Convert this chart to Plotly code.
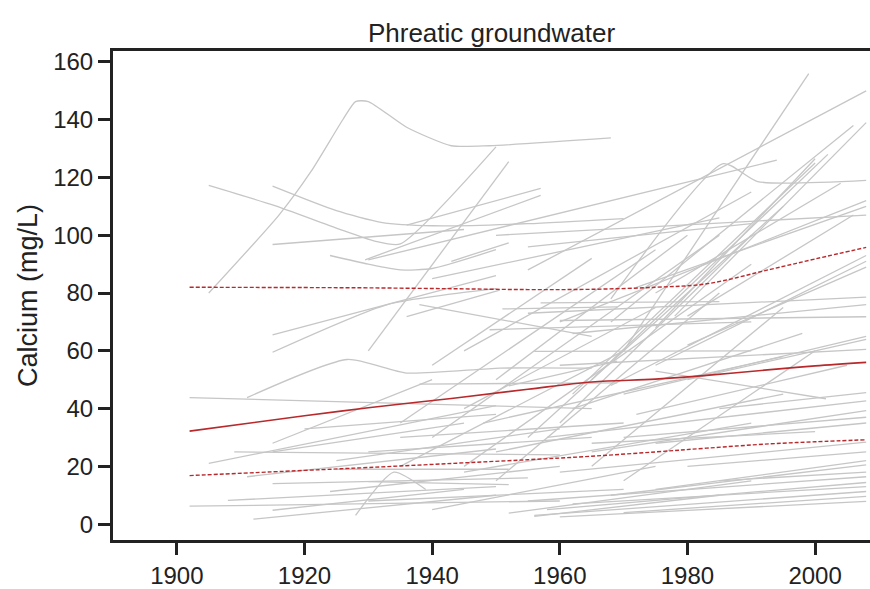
import plotly.graph_objects as go

# ---- Individual well trends: (start year, start Ca, end year, end Ca) ----
upper_wells = [
    (1970, 60, 1999, 156), (1955, 88, 2008, 150), (1968, 70, 2006, 138),
    (1978, 72, 2008, 139), (1965, 50, 2002, 128), (1975, 68, 2000, 126.5),
    (1930, 91.5, 1994, 126), (1962, 45, 2000, 125), (1975, 80, 2004, 118),
    (1980, 72, 2006, 107), (1960, 70, 2008, 112), (1972, 82, 2008, 110),
    (1950, 100, 2008, 107), (1936, 103.5, 1957, 116.2), (1929.5, 91.5, 1957, 113.8),
    (1930, 60, 1952, 125.5), (1943, 91, 1952, 97.4), (1915, 96.8, 1945, 102),
    (1955, 96, 1990, 104), (1940, 85, 1985, 106),
]

middle_wells = [
    (1968, 48, 2008, 93), (1975, 55, 2008, 91), (1980, 62, 2008, 89),
    (1955, 73, 2008, 78.6), (1962, 66, 2008, 76), (1960, 70.5, 2008, 71.8),
    (1970, 45, 2008, 65), (1980, 50, 2008, 64), (1960, 55, 2008, 60.5),
    (1975, 53, 2001.7, 43.4), (1940, 30, 1985, 100), (1945, 20, 1990, 90),
    (1950, 15, 1985, 80), (1935, 35, 1975, 95), (1955, 30, 1995, 110),
    (1950, 50, 1980, 100), (1945, 40, 1975, 75), (1960, 35, 1990, 100),
    (1940, 55, 1965, 92), (1965, 20, 1995, 75), (1970, 15, 2000, 60),
    (1935, 20, 1970, 60), (1945, 60, 1990, 115), (1951, 74.5, 1969, 75.2),
    (1957, 76.6, 1985, 77), (1949, 67.3, 1990, 70), (1938, 48.5, 1969, 48.9),
    (1952, 47.9, 1969, 56.4), (1956, 59.8, 1990, 60), (1915, 65.5, 1950, 86),
    (1936, 71.8, 1950.6, 81), (1938, 76, 1965, 65), (1902, 43.8, 1965, 40),
    (1915, 28, 1940, 50), (1985, 40, 2008, 45.5), (1958, 30, 2008, 42.7),
    (1965, 25, 2008, 39.3), (1970, 30, 2008, 37), (1975, 28, 2008, 35),
    (1962, 40, 1998, 66), (1948, 35, 1995, 58), (1972, 38, 2005, 55),
]

lower_wells = [
    (1960, 18, 2008, 28.4), (1968, 10, 2008, 20.5), (1955, 8, 2008, 16.4),
    (1958, 5, 2008, 14.4), (1962, 7, 2008, 13), (1956, 3, 2008, 11.3),
    (1970, 4, 2008, 9.6), (1960, 2.5, 2008, 7.9), (1905, 21, 1950, 41),
    (1909, 25, 1960, 24), (1915, 25, 1945, 35), (1911, 16.4, 1950, 26),
    (1915, 14, 1955, 16), (1924, 11.3, 1960, 20), (1908, 8.2, 1950, 13),
    (1902, 6.2, 1960, 8), (1915, 4.8, 1945, 12), (1912, 1.7, 1950, 10),
    (1930, 14.7, 1952, 13.7), (1925, 19, 1952, 19), (1952, 3.8, 1990, 15),
    (1956, 2.7, 1985, 10), (1930, 25, 1965, 30), (1935, 30, 1970, 35),
    (1940, 5, 1975, 20), (1925, 22, 1960, 33), (1920, 33, 1950, 38),
    (1945, 18, 1990, 35), (1950, 25, 1995, 45), (1930, 8, 1970, 12),
    (1980, 20, 2008, 25), (1975, 12, 2008, 22), (1985, 15, 2008, 18),
    (1965, 28, 2000, 32),
]

# ---- Wells with non-linear trends: (year, Ca) ----
well_peak = [(1905, 80), (1916, 107), (1921, 122), (1926, 140), (1928, 146.3),
             (1930, 146.3), (1936, 137.4), (1943, 131), (1949, 131), (1968, 133.7)]
well_dip = [(1905, 117.3), (1915, 110.5), (1925, 102.5), (1931, 98),
            (1935, 97), (1950, 130.6)]
well_flat_high = [(1915, 117), (1925, 108.5), (1932, 104.5), (1940, 103.3),
                  (1955, 104), (1970, 105.8)]
well_sag = [(1924, 93), (1930, 90), (1935, 88), (1940, 88.5), (1950, 95)]
well_hump = [(1911, 43.8), (1926.7, 57), (1936, 52.3), (1950.6, 54), (1965, 54)]
well_kink = [(1915, 59.5), (1933, 76), (1950, 81.5)]
well_spike = [(1928, 3), (1934, 18), (1939, 12)]
well_ridge = [(1968, 78), (1985.6, 124.8), (1991, 118.6), (2008, 119)]

curved_wells = [well_peak, well_dip, well_flat_high, well_sag,
                well_hump, well_kink, well_spike, well_ridge]

# ---- Percentiles across wells ----
pct_years = [1902, 1920, 1930, 1943, 1955, 1965, 1975, 1983, 1993, 2000, 2008]
median_ca = [32.2, 37.5, 40.3, 43.5, 46.7, 49.2, 50.2, 51.5, 53.5, 54.8, 56]
p90_ca = [82, 81.9, 81.8, 81.5, 81.2, 81.3, 82, 83.2, 88.2, 91.8, 95.8]
p10_ca = [16.8, 18.6, 19.6, 21, 22.3, 23.5, 25, 26.3, 27.8, 28.5, 29.2]

GRAY = "#c6c6c6"
RED = "#b8292c"

fig = go.Figure()

for x0, y0, x1, y1 in upper_wells + middle_wells + lower_wells:
    fig.add_trace(go.Scatter(x=[x0, x1], y=[y0, y1], mode="lines",
                             line=dict(color=GRAY, width=1.3),
                             hoverinfo="skip", showlegend=False))

for well in curved_wells:
    fig.add_trace(go.Scatter(x=[p[0] for p in well], y=[p[1] for p in well],
                             mode="lines", line=dict(color=GRAY, width=1.3, shape="spline", smoothing=0.6),
                             hoverinfo="skip", showlegend=False))

fig.add_trace(go.Scatter(x=pct_years, y=p90_ca, mode="lines",
                         line=dict(color=RED, width=1.4, dash="4px,2px", shape="spline"),
                         showlegend=False))
fig.add_trace(go.Scatter(x=pct_years, y=p10_ca, mode="lines",
                         line=dict(color=RED, width=1.4, dash="4px,2px", shape="spline"),
                         showlegend=False))
fig.add_trace(go.Scatter(x=pct_years, y=median_ca, mode="lines",
                         line=dict(color=RED, width=1.6, shape="spline"),
                         showlegend=False))

FONT = "Arial, Liberation Sans, sans-serif"
AX = "#222222"

fig.update_layout(
    width=870, height=589,
    margin=dict(l=113, r=0, t=51, b=42),
    plot_bgcolor="white", paper_bgcolor="white",
    font=dict(family=FONT, color=AX, size=24),
    title=dict(text="Phreatic groundwater", x=0.5, xref="paper", xanchor="center",
               y=1 - 33 / 589, yanchor="middle", font=dict(size=26, color=AX)),
    xaxis=dict(range=[1890, 2008.6], tickvals=[1900, 1920, 1940, 1960, 1980, 2000],
               showgrid=False, zeroline=False, showline=True, linecolor=AX, linewidth=3,
               mirror=True, ticks="outside", ticklen=12, tickwidth=3, tickcolor=AX,
               tickfont=dict(size=24)),
    yaxis=dict(range=[-5.5, 163.8], tickvals=[0, 20, 40, 60, 80, 100, 120, 140, 160],
               showgrid=False, zeroline=False, showline=True, linecolor=AX, linewidth=3,
               ticks="outside", ticklen=12, tickwidth=3, tickcolor=AX,
               tickfont=dict(size=24),
               title=dict(text="Calcium (mg/L)", font=dict(size=27), standoff=8)),
)

fig.write_html("out.html")
